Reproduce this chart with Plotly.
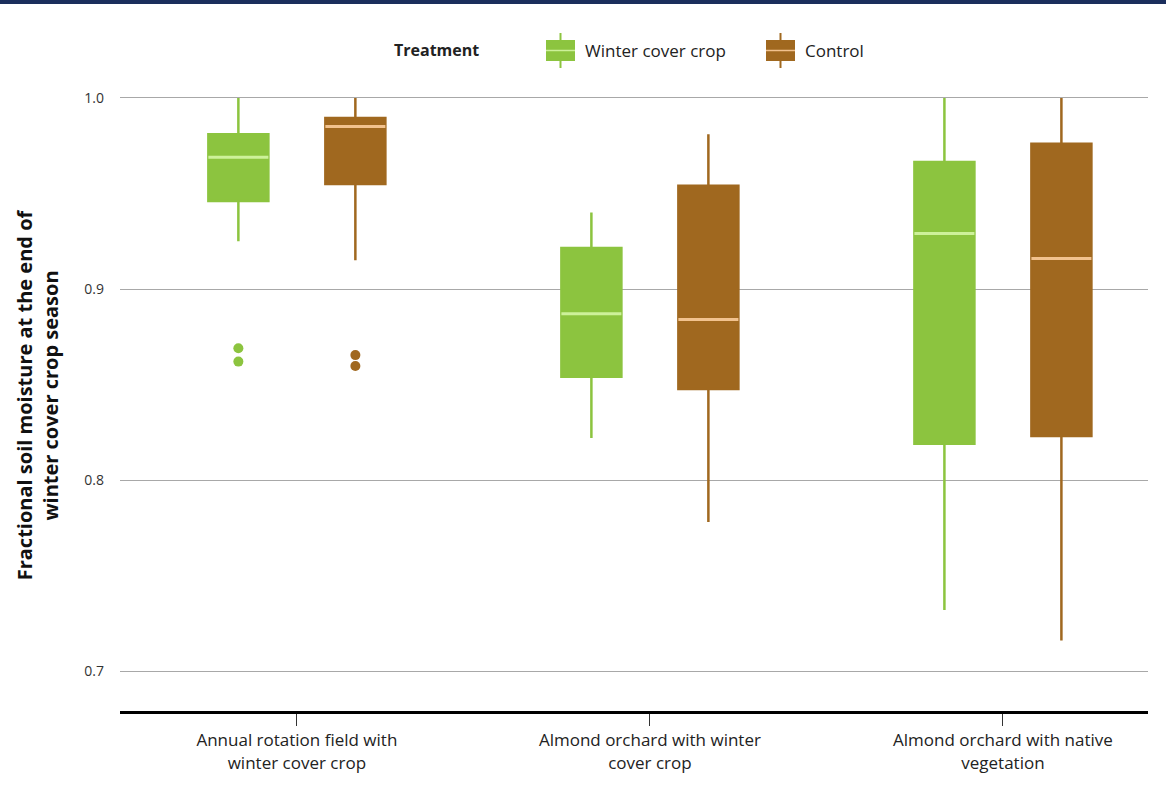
import numpy as np
import plotly.graph_objects as go

# Site categories (x axis) and per-treatment box statistics
sites = [
    "Annual rotation field with<br>winter cover crop",
    "Almond orchard with winter<br>cover crop",
    "Almond orchard with native<br>vegetation",
]

cover_low = [0.925, 0.822, 0.732]
cover_q1 = [0.946, 0.854, 0.819]
cover_med = [0.969, 0.887, 0.929]
cover_q3 = [0.981, 0.9215, 0.9665]
cover_high = [1.0, 0.940, 1.0]
cover_outliers = [0.869, 0.862]
cover_outlier_site = [0, 0]

control_low = [0.915, 0.778, 0.716]
control_q1 = [0.955, 0.8476, 0.823]
control_med = [0.985, 0.884, 0.916]
control_q3 = [0.9895, 0.954, 0.976]
control_high = [1.0, 0.981, 1.0]
control_outliers = [0.8654, 0.8597]
control_outlier_site = [0, 0]

y_ticks = [0.7, 0.8, 0.9, 1.0]
y_tick_text = ["0.7", "0.8", "0.9", "1.0"]

GREEN = "#8CC43F"
GREEN_MED = "#CDF19A"
BROWN = "#A0681F"
BROWN_MED = "#F2C28E"

OFFSET = 0.1657
BOX_W = 0.17

# figure geometry (pixels)
W, H = 1166, 787
ML, MR, MT, MB = 120, 18, 80, 76
PW, PH = W - ML - MR, H - MT - MB


def px(xp):
    return (xp - ML) / PW


def py(yp):
    return (H - MB - yp) / PH


pos = np.arange(len(sites))
fig = go.Figure()


def add_series(name, color, med_color, low, q1, med, q3, high, out_site, out_vals, shift):
    xs = pos + shift
    fig.add_trace(go.Box(
        name=name, x=xs, q1=q1, median=med, q3=q3,
        lowerfence=low, upperfence=high, width=BOX_W,
        fillcolor=color, line=dict(color=color, width=2.5),
        whiskerwidth=0, boxpoints=False, showlegend=False,
    ))
    # lighter median bar drawn on top of the box
    fig.add_trace(go.Box(
        name=name, x=xs, q1=med, median=med, q3=med,
        lowerfence=med, upperfence=med, width=BOX_W,
        fillcolor="rgba(0,0,0,0)", line=dict(color=med_color, width=3),
        whiskerwidth=0, boxpoints=False, showlegend=False,
    ))
    fig.add_trace(go.Scatter(
        x=np.array(out_site) + shift, y=out_vals, mode="markers",
        marker=dict(color=color, size=10), showlegend=False,
    ))


add_series("Winter cover crop", GREEN, GREEN_MED, cover_low, cover_q1, cover_med,
           cover_q3, cover_high, cover_outlier_site, cover_outliers, -OFFSET)
add_series("Control", BROWN, BROWN_MED, control_low, control_q1, control_med,
           control_q3, control_high, control_outlier_site, control_outliers, OFFSET)

shapes = []
annotations = []

# dark band along the top edge
shapes.append(dict(type="rect", xref="paper", yref="paper",
                   x0=px(0), x1=px(W), y0=py(4), y1=py(0),
                   fillcolor="#1B2E5C", line_width=0, layer="above"))

# legend: title, box glyphs and labels
LEG_FONT = "Open Sans, sans-serif"
annotations.append(dict(xref="paper", yref="paper", x=px(392), y=py(50),
                        xanchor="left", yanchor="middle", showarrow=False,
                        text="<b>Treatment</b>",
                        font=dict(family=LEG_FONT, size=16, color="#222")))
for label, color, med_color, x_left in [
    ("Winter cover crop", GREEN, GREEN_MED, 546),
    ("Control", BROWN, BROWN_MED, 766),
]:
    cx = x_left + 14.5
    shapes.append(dict(type="line", xref="paper", yref="paper",
                       x0=px(cx), x1=px(cx), y0=py(33), y1=py(68),
                       line=dict(color=color, width=2)))
    shapes.append(dict(type="rect", xref="paper", yref="paper",
                       x0=px(x_left), x1=px(x_left + 29), y0=py(61), y1=py(40),
                       fillcolor=color, line_width=0))
    shapes.append(dict(type="line", xref="paper", yref="paper",
                       x0=px(x_left), x1=px(x_left + 29), y0=py(50.5), y1=py(50.5),
                       line=dict(color=med_color, width=1.5)))
    annotations.append(dict(xref="paper", yref="paper", x=px(x_left + 37), y=py(50),
                            xanchor="left", yanchor="middle", showarrow=False,
                            text=label,
                            font=dict(family=LEG_FONT, size=17, color="#222")))

fig.update_layout(
    width=W, height=H,
    margin=dict(l=ML, r=MR, t=MT, b=MB),
    paper_bgcolor="white", plot_bgcolor="white",
    font=dict(family="Open Sans, sans-serif", color="#222"),
    boxmode="overlay",
    showlegend=False,
    shapes=shapes,
    annotations=annotations,
    xaxis=dict(
        range=[-0.501, 2.411], tickvals=list(pos), ticktext=sites,
        showline=True, linecolor="black", linewidth=3,
        ticks="outside", ticklen=12, tickwidth=1, tickcolor="#333",
        showgrid=False, zeroline=False,
        tickfont=dict(family="Open Sans, sans-serif", size=17, color="#222"),
    ),
    yaxis=dict(
        range=[0.6791, 1.0094], tickvals=y_ticks, ticktext=y_tick_text,
        showgrid=True, gridcolor="#A8A8A8", gridwidth=1, zeroline=False,
        showline=False, ticks="", ticklabelstandoff=15,
        tickfont=dict(family="Open Sans, sans-serif", size=14, color="#333"),
        title=dict(
            text="<b>Fractional soil moisture at the end of<br>winter cover crop season</b>",
            font=dict(family="Open Sans, sans-serif", size=20, color="#111"),
            standoff=20,
        ),
    ),
)

fig.write_html("out.html")
